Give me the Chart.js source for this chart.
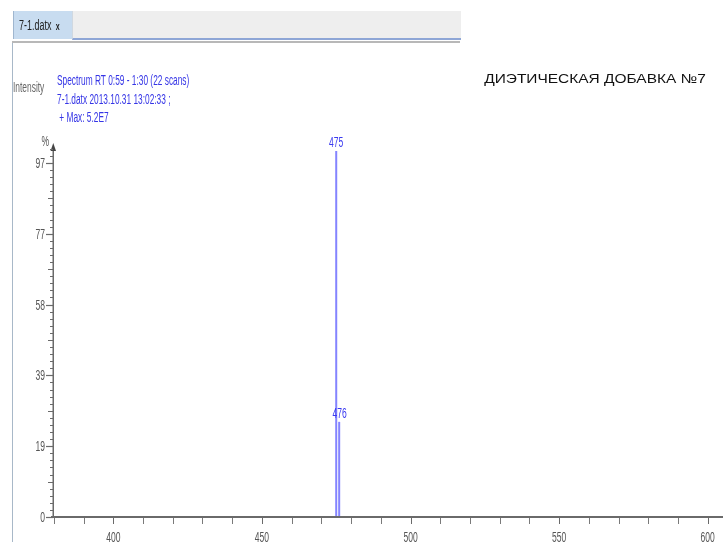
<!DOCTYPE html>
<html>
<head>
<meta charset="utf-8">
<script src="https://cdn.jsdelivr.net/npm/chart.js@4.4.1/dist/chart.umd.min.js"></script>
<style>
  html, body { margin: 0; padding: 0; background: #fff; }
  #wrap { position: relative; width: 723px; height: 542px; overflow: hidden; }
  #chart { position: absolute; left: 0; top: 0; }
  .tab {
    position: absolute; left: 13px; top: 11px; width: 59px; height: 28px;
    background: #c8dcf0; border-left: 1px solid #9fb6cf;
    font: 14px "Liberation Sans", sans-serif; color: #222;
    line-height: 28px; padding-left: 5px; box-sizing: border-box;
    white-space: nowrap;
  }
  .tab span { display: inline-block; transform: scaleX(0.64); transform-origin: left center; }
  .tab b { font-size: 11px; margin-left: 7px; }
  .bar {
    position: absolute; left: 72px; top: 11px; width: 388px; height: 27px;
    background: #eeeeee; border-bottom: 2px solid #8ea6d6; border-left: 1px solid #d0d8e0;
  }
  .rule { position: absolute; left: 12px; top: 41px; width: 448px; height: 2px; background: #b8b8b8; }
  .frame { position: absolute; left: 12px; top: 43px; width: 1px; height: 499px; background: #a8b8c8; }
</style>
</head>
<body>
<div id="wrap">
  <canvas id="chart" width="723" height="542"></canvas>
  <div class="bar"></div>
  <div class="tab"><span>7-1.datx<b>x</b></span></div>
  <div class="rule"></div>
  <div class="frame"></div>
</div>
<script>
// Peaks of the mass spectrum (m/z and relative intensity, %)
const peakMz = [475, 476];
const peakIntensity = [100, 26];
const peakLabels = ['475', '476'];

// Relative-intensity axis: tick positions (%) and their printed labels
const yTickValues = [0, 19.35, 38.7, 58.05, 77.4, 96.75];
const yTickLabels = ['0', '19', '39', '58', '77', '97'];

// m/z axis labels
const xTickValues = [400, 450, 500, 550, 600];
const xTickLabels = ['400', '450', '500', '550', '600'];

const headerLines = ['Spectrum RT 0:59 - 1:30 (22 scans)', '7-1.datx 2013.10.31 13:02:33 ;', ' + Max: 5.2E7'];
const chartTitle = 'ДИЭТИЧЕСКАЯ ДОБАВКА №7';

const FONT = '"Liberation Sans", sans-serif';
const NARROW_X = 0.61;          // horizontal squeeze for the condensed instrument font
const STICK = 'rgba(110,110,255,0.85)';

// condensed text: squeeze horizontally around the anchor point
function narrowText(ctx, text, x, y, align, sx) {
  ctx.save();
  ctx.translate(x, y);
  ctx.scale(sx, 1);
  ctx.textAlign = align;
  ctx.fillText(text, 0, 0);
  ctx.restore();
}

// one stick (vertical line from baseline to intensity) per peak
const datasets = peakMz.map((mz, i) => ({
  type: 'line',
  data: [{ x: mz, y: 0 }, { x: mz, y: peakIntensity[i] }],
  borderColor: STICK,
  borderWidth: 2,
  pointRadius: 0,
  tension: 0
}));

const spectrumAxes = {
  id: 'spectrumAxes',
  afterDatasetsDraw(chart) {
    const { ctx, chartArea: a, scales: { x, y } } = chart;
    ctx.save();

    // peak labels
    ctx.fillStyle = '#3a3af0';
    ctx.font = '14px ' + FONT;
    ctx.textBaseline = 'alphabetic';
    peakMz.forEach((mz, i) => {
      const px = x.getPixelForValue(mz);
      const py = y.getPixelForValue(peakIntensity[i]);
      narrowText(ctx, peakLabels[i], px + (i === 1 ? 0.5 : 0), py - 4, 'center', NARROW_X);
    });

    ctx.strokeStyle = '#6a6a6a';

    // y axis line with arrow
    const y0 = y.getPixelForValue(0);
    ctx.lineWidth = 1.5;
    ctx.beginPath();
    ctx.moveTo(a.left + 0.25, y0);
    ctx.lineTo(a.left + 0.25, a.top + 2);
    ctx.stroke();
    ctx.fillStyle = '#444';
    ctx.beginPath();
    ctx.moveTo(a.left + 0.25, a.top - 2);
    ctx.lineTo(a.left - 2.5, a.top + 6);
    ctx.lineTo(a.left + 3, a.top + 6);
    ctx.closePath();
    ctx.fill();

    // y minor ticks (10 per major step, half-step slightly longer)
    const step = yTickValues[1] / 10;
    ctx.lineWidth = 1;
    for (let k = 1; k * step < y.max; k++) {
      if (k % 10 === 0) continue;
      const py = Math.round(y.getPixelForValue(k * step)) + 0.5;
      const len = (k % 5 === 0) ? 5 : 3;
      ctx.beginPath();
      ctx.moveTo(a.left - len, py);
      ctx.lineTo(a.left, py);
      ctx.stroke();
    }
    // y major ticks and labels
    ctx.font = '14px ' + FONT;
    ctx.textBaseline = 'middle';
    ctx.fillStyle = '#555';
    yTickValues.forEach((v, i) => {
      const py = Math.round(y.getPixelForValue(v)) + 0.5;
      ctx.lineWidth = 1.2;
      ctx.beginPath();
      ctx.moveTo(a.left - 7, py);
      ctx.lineTo(a.left, py);
      ctx.stroke();
      narrowText(ctx, yTickLabels[i], a.left - 8, py + 1, 'right', NARROW_X);
    });
    narrowText(ctx, '%', a.left - 4, a.top - 3, 'right', NARROW_X);

    // x axis line
    ctx.lineWidth = 2;
    ctx.beginPath();
    ctx.moveTo(a.left - 2, y0);
    ctx.lineTo(a.right, y0);
    ctx.stroke();

    // x ticks every 10 units
    ctx.lineWidth = 1;
    for (let v = Math.ceil(x.min / 10) * 10; v <= x.max; v += 10) {
      const px = Math.round(x.getPixelForValue(v)) + 0.5;
      ctx.strokeStyle = v % 50 === 0 ? '#6a6a6a' : '#7a7a7a';
      ctx.beginPath();
      ctx.moveTo(px, y0 + 1);
      ctx.lineTo(px, y0 + 7);
      ctx.stroke();
    }
    xTickValues.forEach((v, i) => {
      narrowText(ctx, xTickLabels[i], x.getPixelForValue(v), y0 + 21, 'center', NARROW_X);
    });

    // header block
    ctx.textBaseline = 'middle';
    ctx.fillStyle = '#666';
    narrowText(ctx, 'Intensity', 13, 88, 'left', 0.6);
    ctx.fillStyle = '#3535e6';
    narrowText(ctx, headerLines[0], 57, 81, 'left', 0.595);
    narrowText(ctx, headerLines[1], 57, 100, 'left', 0.595);
    narrowText(ctx, headerLines[2], 57, 118, 'left', 0.595);

    // title
    ctx.fillStyle = '#111';
    ctx.font = '13px ' + FONT;
    narrowText(ctx, chartTitle, 595, 79, 'center', 1.19);

    ctx.restore();
  }
};

new Chart(document.getElementById('chart'), {
  type: 'line',
  data: { datasets },
  options: {
    responsive: false,
    animation: false,
    layout: { padding: { left: 53, right: 0, top: 145, bottom: 25 } },
    plugins: { legend: { display: false }, tooltip: { enabled: false }, title: { display: false } },
    scales: {
      x: { type: 'linear', min: 379.7, max: 605.15, display: false },
      y: { type: 'linear', min: 0, max: 101.64, display: false }
    }
  },
  plugins: [spectrumAxes]
});
</script>
</body>
</html>
